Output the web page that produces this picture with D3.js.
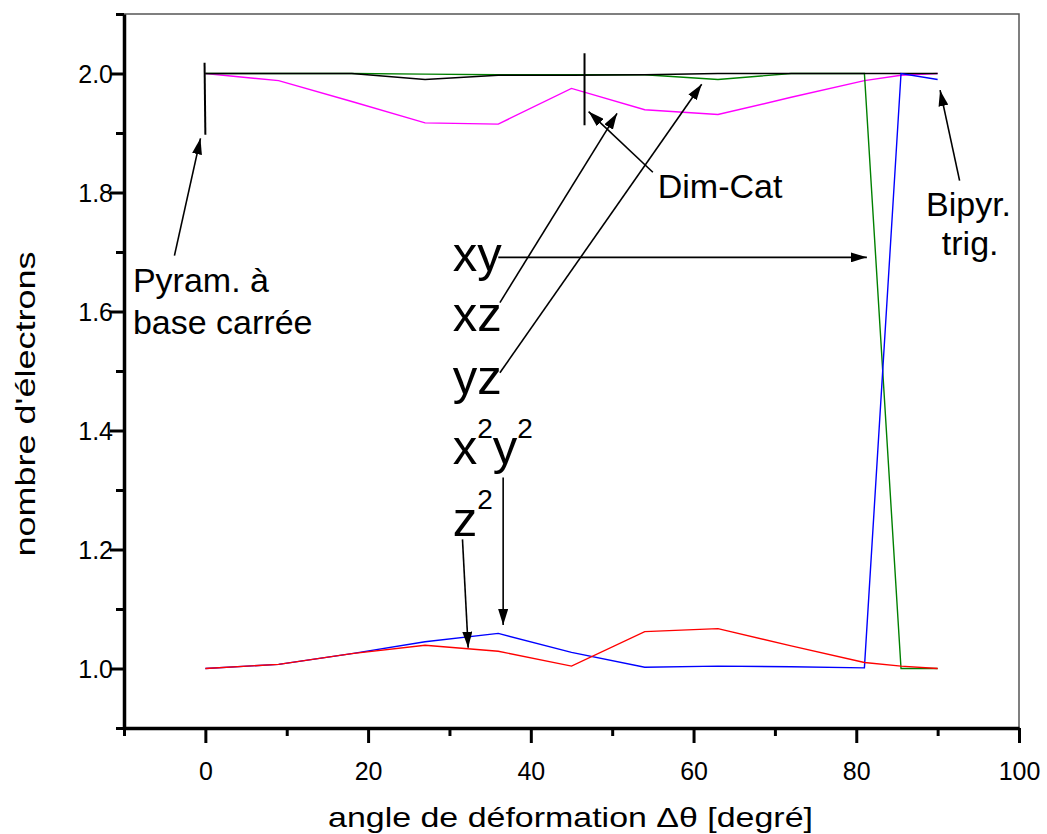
<!DOCTYPE html>
<html>
<head>
<meta charset="utf-8">
<script src="https://cdn.jsdelivr.net/npm/d3@7"></script>
<style>
  html, body { margin: 0; padding: 0; background: #fff; }
  svg { display: block; font-family: Arial, "Liberation Sans", Helvetica, sans-serif; }
</style>
</head>
<body>
<svg id="chart" width="1047" height="834"></svg>
<script>
// ---- data ----
const angles = [0, 9, 18, 27, 36, 45, 54, 63, 72, 81, 85.5, 90];
const seriesMagenta = [2.0, 1.988, 1.953, 1.917, 1.915, 1.975, 1.939, 1.931, 1.960, 1.988, 1.997, 2.0];
const seriesGreen   = [2.0, 2.0, 2.0, 1.999, 1.998, 1.998, 1.998, 1.990, 2.0, 2.0, 1.0, 1.0];
const seriesBlack   = [2.0, 2.0, 2.0, 1.990, 1.997, 1.997, 1.998, 2.0, 2.0, 2.0, 2.0, 2.0];
const seriesBlue    = [1.0, 1.007, 1.025, 1.045, 1.059, 1.027, 1.002, 1.004, 1.003, 1.001, 2.0, 1.990];
const seriesRed     = [1.0, 1.007, 1.025, 1.039, 1.029, 1.004, 1.062, 1.067, 1.038, 1.010, 1.004, 1.0];
const xMajorTicks = [0, 20, 40, 60, 80, 100];
const xMinorTicks = [-10, 10, 30, 50, 70, 90];
const yMajorTicks = [1.0, 1.2, 1.4, 1.6, 1.8, 2.0];
const yMinorTicks = [0.9, 1.1, 1.3, 1.5, 1.7, 1.9, 2.1];
const xTitle = "angle de déformation Δθ [degré]";
const yTitle = "nombre d'électrons";

const series = [
  { name: "magenta", values: seriesMagenta, color: "#ff00ff" },
  { name: "green", values: seriesGreen, color: "#008000" },
  { name: "black", values: seriesBlack, color: "#000000" },
  { name: "blue", values: seriesBlue, color: "#0000ff" },
  { name: "red", values: seriesRed, color: "#ff0000" }
];

// annotation lines in data coordinates [x1,y1,x2,y2]
const plainLines = [
  [-0.1, 2.018, 0.0, 1.897],
  [46.6, 2.034, 46.6, 1.913]
];
const arrows = [
  [-3.8, 1.694, -0.6, 1.891],
  [55.0, 1.834, 47.1, 1.936],
  [36.2, 1.615, 50.6, 1.933],
  [36.2, 1.497, 61.0, 1.982],
  [36.0, 1.691, 81.3, 1.691],
  [92.7, 1.820, 90.3, 1.972],
  [36.6, 1.321, 36.6, 1.073],
  [31.6, 1.217, 32.3, 1.035]
];

// ---- layout ----
const svg = d3.select("#chart");
const mLeft = 124, mRight = 1019, mTop = 14, mBottom = 728;
const x = d3.scaleLinear().domain([-10, 100]).range([mLeft, mRight]);
const y = d3.scaleLinear().domain([0.9, 2.1]).range([mBottom, mTop]);

// frame (top & right)
svg.append("path")
  .attr("d", `M${mLeft},${mTop}H${mRight}V${mBottom}`)
  .attr("fill", "none").attr("stroke", "#555").attr("stroke-width", 1.5);

// axes
const gx = svg.append("g").attr("transform", `translate(0,${mBottom})`);
gx.call(d3.axisBottom(x).tickValues(xMajorTicks).tickSize(15).tickSizeOuter(0).tickFormat(d3.format("d")));
const gxm = svg.append("g").attr("transform", `translate(0,${mBottom})`);
gxm.call(d3.axisBottom(x).tickValues(xMinorTicks).tickSize(8).tickSizeOuter(0).tickFormat(""));
gxm.select(".domain").remove();

const gy = svg.append("g").attr("transform", `translate(${mLeft},0)`);
gy.call(d3.axisLeft(y).tickValues(yMajorTicks).tickSize(14).tickSizeOuter(0).tickFormat(d3.format(".1f")));
const gym = svg.append("g").attr("transform", `translate(${mLeft},0)`);
gym.call(d3.axisLeft(y).tickValues(yMinorTicks).tickSize(8).tickSizeOuter(0).tickFormat(""));
gym.select(".domain").remove();

svg.selectAll(".domain").attr("stroke", "#000").attr("stroke-width", 3.5);
svg.selectAll(".tick line").attr("stroke", "#000").attr("stroke-width", 3);
gx.selectAll(".tick text").attr("font-size", 25).attr("font-family", "Arial, 'Liberation Sans', sans-serif")
  .attr("fill", "#000").attr("dy", 0).attr("y", 0).attr("transform", "translate(0,52)");
gy.selectAll(".tick text").attr("font-size", 25).attr("font-family", "Arial, 'Liberation Sans', sans-serif")
  .attr("fill", "#000").attr("x", -11).attr("dy", "0.35em");

// data lines
const line = d3.line().x((d, i) => x(angles[i])).y(d => y(d));
svg.append("g").selectAll("path").data(series).join("path")
  .attr("d", d => line(d.values))
  .attr("fill", "none")
  .attr("stroke", d => d.color)
  .attr("stroke-width", 1.4)
  .attr("stroke-linejoin", "miter");

// arrow marker
svg.append("defs").append("marker")
  .attr("id", "ah").attr("markerUnits", "userSpaceOnUse")
  .attr("viewBox", "0 0 16 10").attr("refX", 16).attr("refY", 5)
  .attr("markerWidth", 16).attr("markerHeight", 10).attr("orient", "auto")
  .append("path").attr("d", "M0,0L16,5L0,10Z").attr("fill", "#000");

const ann = svg.append("g");
ann.selectAll("line.plain").data(plainLines).join("line").attr("class", "plain")
  .attr("x1", d => x(d[0])).attr("y1", d => y(d[1]))
  .attr("x2", d => x(d[2])).attr("y2", d => y(d[3]))
  .attr("stroke", "#000").attr("stroke-width", 2);
ann.selectAll("line.arrow").data(arrows).join("line").attr("class", "arrow")
  .attr("x1", d => x(d[0])).attr("y1", d => y(d[1]))
  .attr("x2", d => x(d[2])).attr("y2", d => y(d[3]))
  .attr("stroke", "#000").attr("stroke-width", 1.6)
  .attr("marker-end", "url(#ah)");

// annotation texts
function txt(px, py, s, size, anchor) {
  return svg.append("text").attr("x", px).attr("y", py).attr("font-size", size)
    .attr("text-anchor", anchor || "start").attr("fill", "#000").text(s);
}
txt(x(-8.9), y(1.633), "Pyram. à", 34);
txt(x(-8.9), y(1.563), "base carrée", 34);
txt(x(55.6), y(1.790), "Dim-Cat", 34);
txt(x(93.8), y(1.760), "Bipyr.", 34, "middle");
txt(x(94.0), y(1.695), "trig.", 34, "middle");

// orbital labels
const labelSize = 49, supSize = 28;
txt(x(30.4), y(1.668), "xy", labelSize);
txt(x(30.4), y(1.567), "xz", labelSize);
txt(x(30.4), y(1.461), "yz", labelSize);
const t4 = svg.append("text").attr("x", x(30.4)).attr("y", y(1.344)).attr("font-size", labelSize).attr("fill", "#000");
t4.append("tspan").text("x");
t4.append("tspan").attr("font-size", supSize).attr("dy", -26).text("2");
t4.append("tspan").attr("dy", 26).text("y");
t4.append("tspan").attr("font-size", supSize).attr("dy", -26).text("2");
const t5 = svg.append("text").attr("x", x(30.4)).attr("y", y(1.222)).attr("font-size", labelSize).attr("fill", "#000");
t5.append("tspan").text("z");
t5.append("tspan").attr("font-size", supSize).attr("dy", -27).text("2");

// axis titles
svg.append("text").attr("x", (mLeft + mRight) / 2 - 1).attr("y", 827)
  .attr("text-anchor", "middle").attr("font-size", 28)
  .attr("textLength", 485).attr("lengthAdjust", "spacingAndGlyphs")
  .attr("fill", "#000").text(xTitle);
svg.append("text").attr("transform", "translate(35,404) rotate(-90)")
  .attr("text-anchor", "middle").attr("font-size", 28)
  .attr("textLength", 305).attr("lengthAdjust", "spacingAndGlyphs")
  .attr("fill", "#000").text(yTitle);
</script>
</body>
</html>
